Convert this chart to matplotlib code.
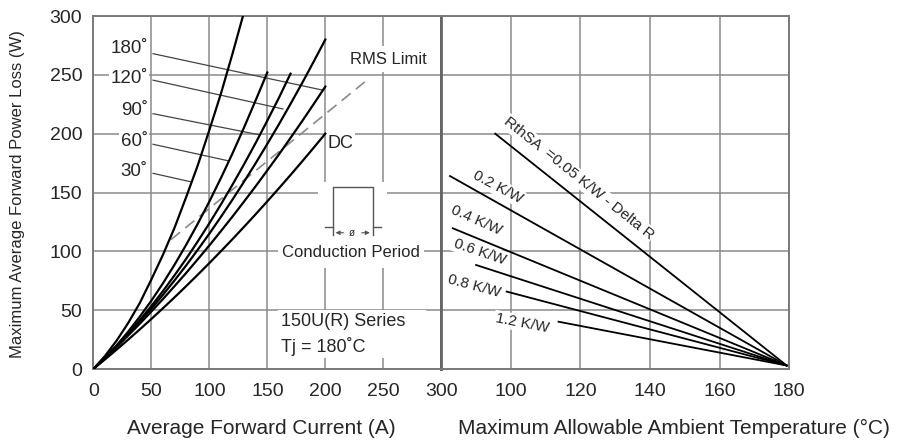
import matplotlib
matplotlib.use("Agg")
import matplotlib.pyplot as plt
from matplotlib.patches import Rectangle

plt.rcParams["font.family"] = ["Liberation Sans", "DejaVu Sans"]

# left panel: power loss vs average current, per conduction angle
angle30_i = [0, 10, 20, 30, 40, 50, 60, 70, 80, 90, 100, 110, 120, 129]
angle30_p = [0, 11, 24, 39, 56, 76, 97, 120, 146, 173, 203, 234, 268, 300]
angle60_i = [0, 10, 20, 30, 40, 50, 60, 70, 80, 90, 100, 110, 120, 130, 140, 150]
angle60_p = [0, 9.5, 20, 31.7, 44.4, 58, 72.8, 88.6, 105.5, 123.4, 142.3, 162.3, 183.3, 205.4, 228.5, 252]
angle90_i = [0, 10, 20, 30, 40, 50, 60, 70, 80, 90, 100, 110, 120, 130, 140, 150, 160, 170]
angle90_p = [0, 9.3, 19.4, 30, 41.4, 53.5, 66.2, 79.6, 93.6, 108.4, 123.8, 139.9, 156.7, 174.1, 192.2,
             211.1, 230.5, 251]
wide_i = [0, 10, 20, 30, 40, 50, 60, 70, 80, 90, 100, 110, 120, 130, 140, 150, 160, 170, 180, 190, 200]
angle120_p = [0, 9.3, 19, 29.3, 40, 51.3, 63, 75.3, 88, 101.3, 115, 129.3, 144, 159.3, 175, 191.3,
              208, 225.3, 243, 261.3, 280]
angle180_p = [0, 9.2, 18.6, 28.4, 38.4, 48.8, 59.4, 70.4, 81.6, 93.2, 105, 117.2, 129.6, 142.4, 155.4,
              168.8, 182.4, 196.4, 210.6, 225.2, 240]
dc_p = [0, 8.1, 16.4, 24.9, 33.6, 42.5, 51.6, 60.9, 70.4, 80.1, 90, 100.1, 110.4, 120.9, 131.6,
        142.5, 153.6, 164.9, 176.4, 188.1, 200]
rms_i = [67, 234]
rms_p = [110, 244]

angle_labels = ["180˚", "120˚", "90˚", "60˚", "30˚"]
angle_label_p = [272.5, 247, 220, 193, 167.6]
leader_start_p = [268, 245.5, 217, 191, 166.3]
leader_end_i = [197.8, 163.4, 143.3, 116.1, 84.6]
leader_end_p = [237, 221, 199, 177, 159]

# right panel: power loss vs ambient temperature, per heatsink resistance
rth_labels = ["RthSA  =0.05 K/W - Delta R", "0.2 K/W", "0.4 K/W", "0.6 K/W", "0.8 K/W", "1.2 K/W"]
rth_start_t = [95.5, 82.5, 83.3, 90, 98.8, 113.7]
rth_start_p = [200, 164, 119.6, 88.4, 65.8, 40.2]
rth_end_t = 179.3
rth_end_p = 3
rth_label_t = [119.4, 96.2, 90.2, 91.2, 89.4, 103.2]
rth_label_p = [162.3, 154.6, 126.6, 99.7, 70.5, 38.8]
rth_label_rot = [-38.6, -28, -24, -19, -15, -11]

GRID = "#8a8a8a"
FRAME = "#7a7a7a"
TXT = "#262626"
white_box = dict(facecolor="white", edgecolor="none", pad=1.0)

fig = plt.figure(figsize=(8.99, 4.44), dpi=100)
ax1 = fig.add_axes([0.1038, 0.1689, 0.3871, 0.795])
ax2 = fig.add_axes([0.4909, 0.1689, 0.3868, 0.795])

for ax in (ax1, ax2):
    ax.set_ylim(0, 300)
    ax.set_yticks(range(0, 301, 50))
    ax.tick_params(length=0, labelsize=14, labelcolor=TXT)
    ax.tick_params(axis="x", pad=10)
    ax.tick_params(axis="y", pad=8)
    ax.grid(True, color=GRID, linewidth=1.1)
    ax.set_axisbelow(True)
    for side in ax.spines.values():
        side.set_color(FRAME)
        side.set_linewidth(1.4)

ax1.set_xlim(0, 300)
ax1.set_xticks(range(0, 301, 50))
ax1.spines["right"].set_color("#666666")
ax1.spines["right"].set_linewidth(2.0)

ax2.set_xlim(80, 180)
ax2.set_xticks([80, 100, 120, 140, 160, 180])
ax2.set_xticklabels(["", "100", "120", "140", "160", "180"])
ax2.set_yticklabels([])
ax2.spines["left"].set_color("#666666")
ax2.spines["left"].set_linewidth(2.0)

# white blank areas covering the grid
ax1.add_patch(Rectangle((193.5, 86), 60, 73, facecolor="white", edgecolor="none", zorder=1))
ax1.add_patch(Rectangle((159, 9), 128, 41, facecolor="white", edgecolor="none", zorder=1))

curve_kw = dict(color="black", linewidth=1.6, zorder=4)
ax1.plot(angle30_i, angle30_p, **curve_kw)
ax1.plot(angle60_i, angle60_p, **curve_kw)
ax1.plot(angle90_i, angle90_p, **curve_kw)
ax1.plot(wide_i, angle120_p, **curve_kw)
ax1.plot(wide_i, angle180_p, **curve_kw)
ax1.plot(wide_i, dc_p, **curve_kw)
ax1.plot(rms_i, rms_p, color="#8a8a8a", linewidth=1.2, dashes=(7, 4), zorder=3)

for lab, ly, sp, ei, ep in zip(angle_labels, angle_label_p, leader_start_p, leader_end_i, leader_end_p):
    ax1.text(47, ly, lab, ha="right", va="center", fontsize=13.5, color=TXT, bbox=white_box, zorder=2)
    ax1.plot([51.5, ei], [sp, ep], color="#444444", linewidth=0.9, zorder=3)

ax1.text(202, 192, "DC", ha="left", va="center", fontsize=13, color=TXT, bbox=white_box, zorder=2)
ax1.text(254.3, 263.4, "RMS Limit", ha="center", va="center", fontsize=12, color=TXT,
         bbox=dict(facecolor="white", edgecolor="none", pad=4), zorder=2)

# conduction period pictogram
pulse_kw = dict(color="#555555", linewidth=1.0, zorder=3)
ax1.plot([199.4, 206.4], [120.4, 120.4], **pulse_kw)
ax1.plot([206.4, 206.4, 240.8, 240.8], [113.8, 154.9, 154.9, 113.8], **pulse_kw)
ax1.plot([240.8, 248], [120.4, 120.4], **pulse_kw)
ax1.annotate("", xy=(206.4, 115.8), xytext=(218, 115.8),
             arrowprops=dict(arrowstyle="-|>", color="#555555", lw=0.8, mutation_scale=6), zorder=3)
ax1.annotate("", xy=(240.8, 115.8), xytext=(229, 115.8),
             arrowprops=dict(arrowstyle="-|>", color="#555555", lw=0.8, mutation_scale=6), zorder=3)
ax1.text(223.2, 115.8, "ø", ha="center", va="center", fontsize=7, color=TXT, zorder=3)
ax1.text(222.2, 99, "Conduction Period", ha="center", va="center", fontsize=12, color=TXT,
         bbox=dict(facecolor="white", edgecolor="none", pad=3), zorder=2)

ax1.text(162, 40.4, "150U(R) Series", ha="left", va="center", fontsize=13, color=TXT, zorder=2)
ax1.text(162, 19.1, "Tj = 180˚C", ha="left", va="center", fontsize=13, color=TXT, zorder=2)

for lab, st, sp, lt, lp, rot in zip(rth_labels, rth_start_t, rth_start_p, rth_label_t, rth_label_p, rth_label_rot):
    ax2.plot([st, rth_end_t], [sp, rth_end_p], color="black", linewidth=1.3, zorder=4)
    ax2.text(lt, lp, lab, ha="center", va="center", rotation=rot, rotation_mode="anchor",
             fontsize=11, color=TXT, bbox=white_box, zorder=2)

fig.text(18 / 899, 0.562, "Maximum Average Forward Power Loss (W)", rotation=90,
         ha="center", va="center", fontsize=12, color=TXT)
fig.text(261.5 / 899, 0.036, "Average Forward Current (A)", ha="center", va="center",
         fontsize=15, color=TXT)
fig.text(673.5 / 899, 0.036, "Maximum Allowable Ambient Temperature (°C)", ha="center",
         va="center", fontsize=15, color=TXT)

fig.savefig("out.png", dpi=100)
